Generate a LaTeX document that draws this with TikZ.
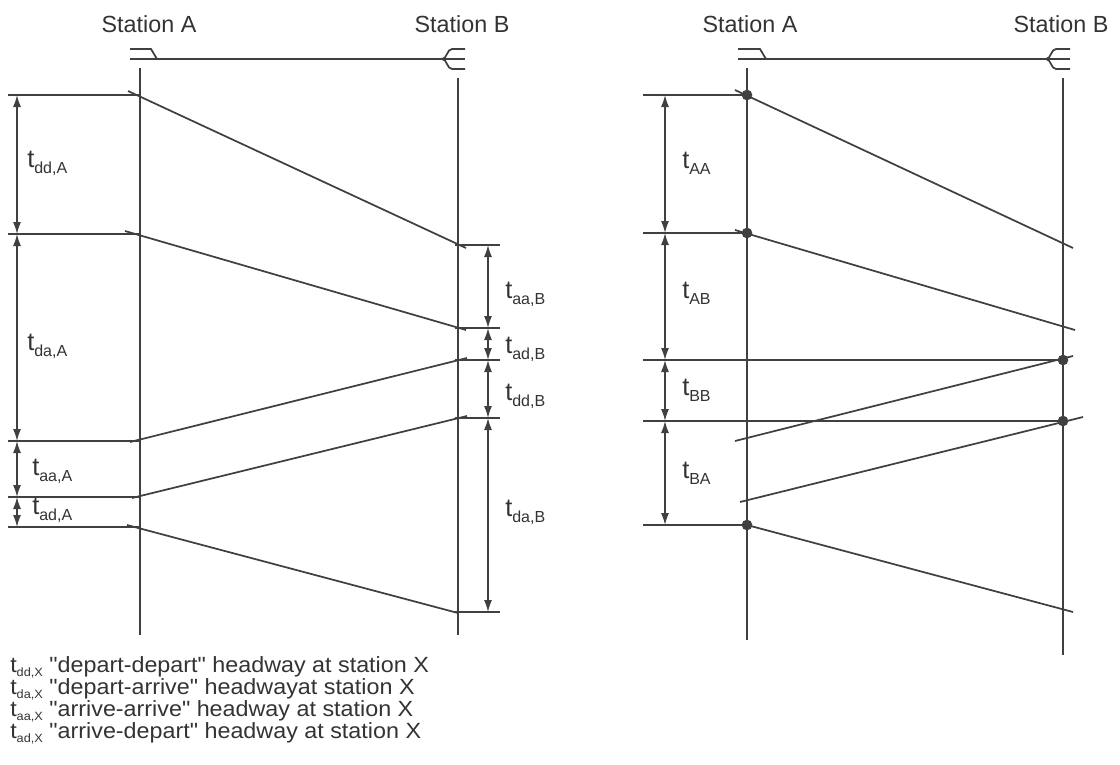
\documentclass[tikz,border=0pt]{standalone}
\usepackage{fontspec}
\setmainfont{Liberation Sans}[Ligatures=TeXOff]
\newfontfamily\legfont{Liberation Sans}[Ligatures=TeXOff, FakeStretch=1.06]
\usetikzlibrary{arrows.meta}
\definecolor{ink}{HTML}{404040}
\definecolor{txt}{HTML}{333333}
\newcommand{\tl}[1]{t\raisebox{-4.5pt}{\fontsize{12}{12}\selectfont #1}}
\newcommand{\tlg}[1]{t\raisebox{-3pt}{\fontsize{9}{9}\selectfont #1}}
\begin{document}
\begin{tikzpicture}[x=0.75pt,y=-0.75pt,
  track/.style={draw=ink, line width=1.3pt},
  tick/.style={draw=ink, line width=1.1pt},
  train/.style={draw=ink, line width=1.3pt},
  dim/.style={draw=ink, line width=1.1pt, {Latex[length=9pt,width=6pt]}-{Latex[length=9pt,width=6pt]}},
  st/.style={font=\fontsize{17.5}{20}\selectfont, text=txt, inner sep=0},
  lab/.style={font=\fontsize{19}{20}\selectfont, text=txt, inner sep=0, anchor=base west},
  leg/.style={font=\legfont\fontsize{16.5}{18}\selectfont, text=txt, inner sep=0, anchor=base west},
  dot/.style={circle, fill=ink, inner sep=0, minimum size=8pt}]
\useasboundingbox (0,0) rectangle (1120,764);

% ================= LEFT DIAGRAM =================
\node[st] (lSA) at (149,24) {Station A};
\node[st] (lSB) at (462,24) {Station B};
% track and station icons
\coordinate (lT0) at (130,59); \coordinate (lT1) at (465,59);
\draw[track] (lT0) -- (lT1);
\draw[track] (130,49) -- (151,49) -- (157,59);
\draw[track] (442,59) .. controls (447,59) and (447,49) .. (452,49) -- (465,49);
\draw[track] (442,59) .. controls (447,59) and (447,69) .. (452,69) -- (465,69);
% station verticals
\coordinate (lA0) at (140,68); \coordinate (lA1) at (140,635);
\coordinate (lB0) at (458,78); \coordinate (lB1) at (458,635);
\draw[track] (lA0) -- (lA1);
\draw[track] (lB0) -- (lB1);
% ticks at A
\foreach \n/\y in {1/95,2/234,3/441,4/497,5/527}{
  \coordinate (la\n) at (17,\y);
  \draw[tick] (8,\y) -- (139,\y);
}
\draw[dim] (la1) -- (la2);
\draw[dim] (la2) -- (la3);
\draw[dim] (la3) -- (la4);
\draw[dim] (la4) -- (la5);
% ticks at B
\foreach \n/\y in {1/245,2/328,3/360,4/418,5/612}{
  \coordinate (lb\n) at (488,\y);
  \draw[tick] (455,\y) -- (500,\y);
}
\draw[dim] (lb1) -- (lb2);
\draw[dim] (lb2) -- (lb3);
\draw[dim] (lb3) -- (lb4);
\draw[dim] (lb4) -- (lb5);
% trains
\coordinate (lp1) at (128,91);  \coordinate (lq1) at (466,248);
\coordinate (lp2) at (125,231); \coordinate (lq2) at (466,330);
\coordinate (lp3) at (130,442); \coordinate (lq3) at (467,358);
\coordinate (lp4) at (132,498); \coordinate (lq4) at (467,416);
\coordinate (lp5) at (127,525); \coordinate (lq5) at (458,613);
\foreach \n in {1,...,5}{\draw[train] (lp\n) -- (lq\n);}
% labels
\node[lab] (ldd) at (27,167) {\tl{dd,A}};
\node[lab] (lda) at (27,350) {\tl{da,A}};
\node[lab] (laa) at (32,475) {\tl{aa,A}};
\node[lab] (lad) at (32,514) {\tl{ad,A}};
\node[lab] (lbaa) at (505,298) {\tl{aa,B}};
\node[lab] (lbad) at (505,353) {\tl{ad,B}};
\node[lab] (lbdd) at (505,400) {\tl{dd,B}};
\node[lab] (lbda) at (505,516) {\tl{da,B}};

% legend
\node[leg] (g1) at (10,672) {\tlg{dd,X} "depart-depart" headway at station X};
\node[leg] (g2) at (10,694) {\tlg{da,X} "depart-arrive" headwayat station X};
\node[leg] (g3) at (10,716) {\tlg{aa,X} "arrive-arrive" headway at station X};
\node[leg] (g4) at (10,738) {\tlg{ad,X} "arrive-depart" headway at station X};

% ================= RIGHT DIAGRAM =================
\node[st] (rSA) at (750,24) {Station A};
\node[st] (rSB) at (1061,24) {Station B};
\coordinate (rT0) at (738,59); \coordinate (rT1) at (1070,59);
\draw[track] (rT0) -- (rT1);
\draw[track] (738,49) -- (760,49) -- (766,59);
\draw[track] (1046,59) .. controls (1051,59) and (1051,49) .. (1056,49) -- (1070,49);
\draw[track] (1046,59) .. controls (1051,59) and (1051,69) .. (1056,69) -- (1070,69);
\coordinate (rA0) at (747,68); \coordinate (rA1) at (747,640);
\coordinate (rB0) at (1063,78); \coordinate (rB1) at (1063,655);
\draw[track] (rA0) -- (rA1);
\draw[track] (rB0) -- (rB1);
% ticks
\foreach \n/\y/\e in {1/95/747,2/233/747,3/360/1063,4/421/1063,5/525/747}{
  \coordinate (ra\n) at (665,\y);
  \draw[tick] (643,\y) -- (\e,\y);
}
\draw[dim] (ra1) -- (ra2);
\draw[dim] (ra2) -- (ra3);
\draw[dim] (ra3) -- (ra4);
\draw[dim] (ra4) -- (ra5);
% trains
\coordinate (rp1) at (735,90);  \coordinate (rq1) at (1073,248);
\coordinate (rp2) at (735,230); \coordinate (rq2) at (1075,330);
\coordinate (rp3) at (735,441); \coordinate (rq3) at (1073,356);
\coordinate (rp4) at (740,502); \coordinate (rq4) at (1083,417);
\coordinate (rp5) at (747,525); \coordinate (rq5) at (1073,612);
\foreach \n in {1,...,5}{\draw[train] (rp\n) -- (rq\n);}
% dots
\node[dot] (d1) at (747,95) {};
\node[dot] (d2) at (747,233) {};
\node[dot] (d3) at (1063,360) {};
\node[dot] (d4) at (1063,421) {};
\node[dot] (d5) at (747,525) {};
% labels
\node[lab] (rAA) at (682,168) {\tl{AA}};
\node[lab] (rAB) at (682,298) {\tl{AB}};
\node[lab] (rBB) at (682,395) {\tl{BB}};
\node[lab] (rBA) at (682,478) {\tl{BA}};
\end{tikzpicture}
\end{document}
